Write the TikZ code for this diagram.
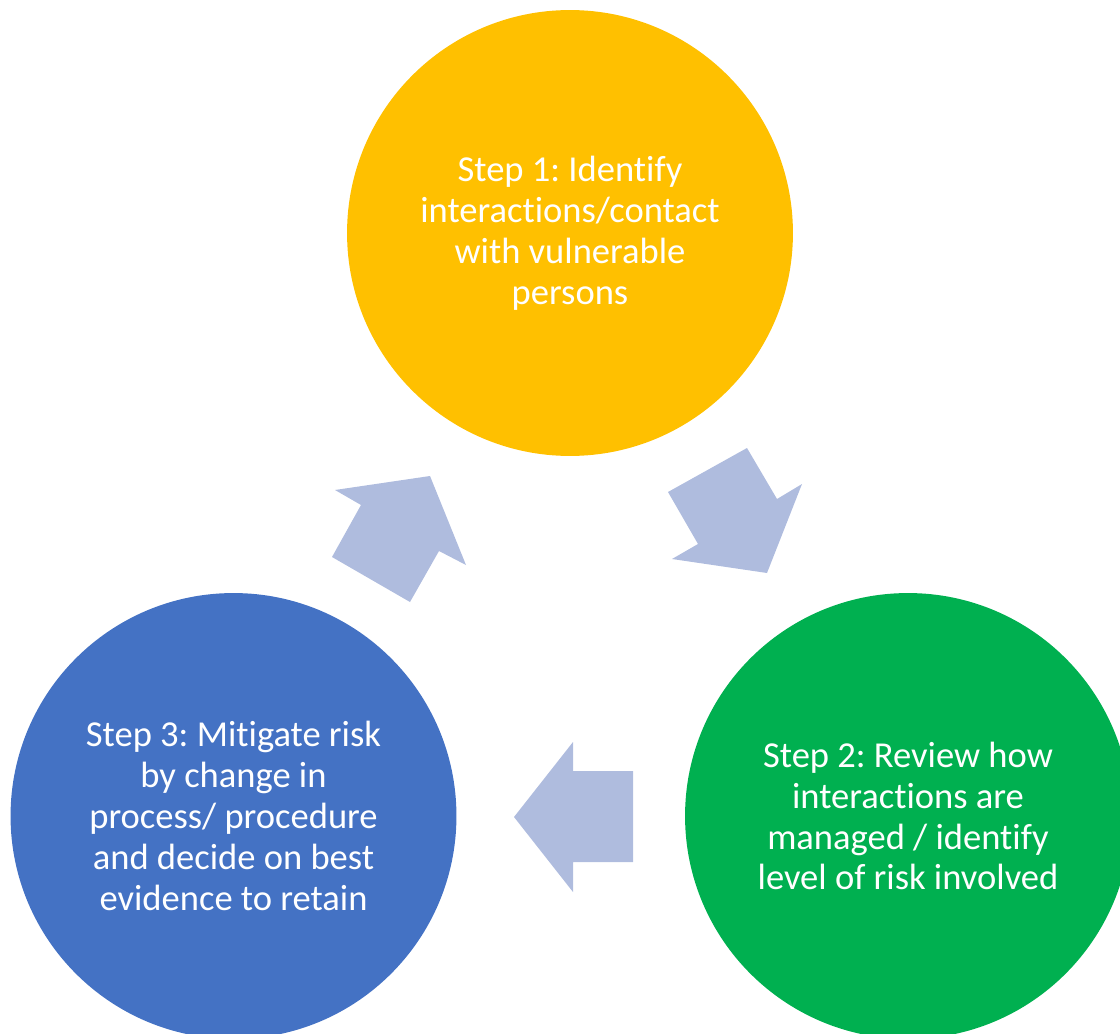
\documentclass[tikz,border=0pt]{standalone}
\usepackage{fontspec}
\setmainfont[Ligatures={NoCommon,NoContextual}]{Carlito}
\frenchspacing
\usepackage{tikz}
\definecolor{stepyellow}{HTML}{FFC000}
\definecolor{stepgreen}{HTML}{00B050}
\definecolor{stepblue}{HTML}{4472C4}
\definecolor{arrowblue}{HTML}{AFBCDE}
\tikzset{
         stepcircle/.style=
          {
           circle,
           minimum size=8.92cm,
           inner sep=0pt,
           text=white,
           align=center,
           font=\fontsize{20.8}{23.3}\selectfont
          },
         bigarrow/.style={fill=arrowblue,draw=none}
        }
\begin{document}
\begin{tikzpicture}[x=0.02cm,y=-0.02cm]
\useasboundingbox (0,0) rectangle (1120,1034);

%the three steps
\node[stepcircle,fill=stepyellow] (identify) at (570,233)
 {Step 1: Identify\\interactions/contact\\with vulnerable\\persons};
\node[stepcircle,fill=stepgreen] (review) at (908,816)
 {Step 2: Review how\\interactions are\\managed / identify\\level of risk involved};
\node[stepcircle,fill=stepblue] (mitigate) at (233.5,816)
 {Step 3: Mitigate risk\\by change in\\process/ procedure\\and decide on best\\evidence to retain};

%some arrows
\fill[bigarrow] (668,492)--(747,448)--(777,499)--(802,484)--(767,573)--
(672,559)--(698,544)--cycle; %step 1 to step 2
\fill[bigarrow] (514,817)--(573,742)--(573,771)--(633,771)--(633,862)--
(573,862)--(573,892)--cycle; %step 2 to step 3
\fill[bigarrow] (332,557)--(361,505)--(335,490)--(430,476)--(466,565)--
(439,551)--(410,602)--cycle; %step 3 to step 1
\end{tikzpicture}
\end{document}
